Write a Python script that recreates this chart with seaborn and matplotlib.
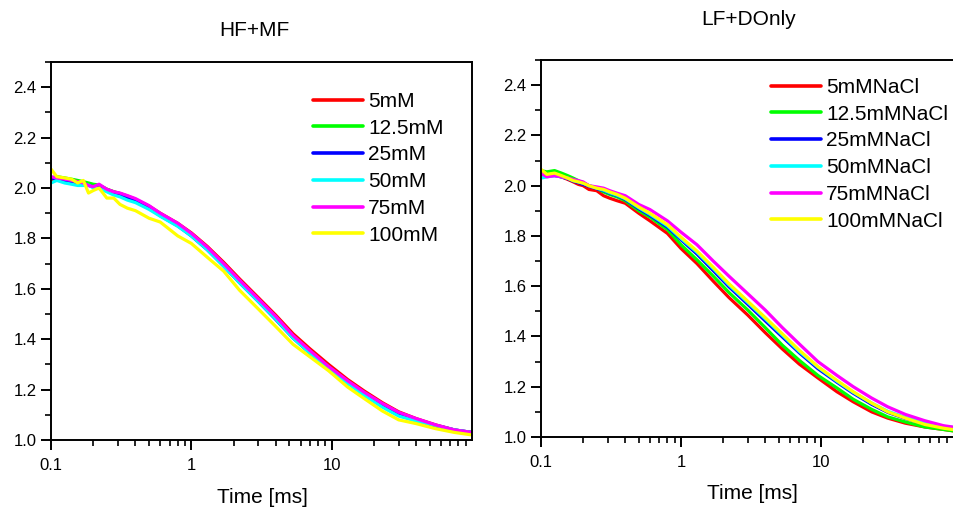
import numpy as np
import pandas as pd
import matplotlib
matplotlib.use("Agg")
import matplotlib.pyplot as plt
import seaborn as sns
from matplotlib.ticker import FixedLocator, MultipleLocator, NullFormatter, FuncFormatter

# ---------------- data ----------------
time_ms = [0.10, 0.11, 0.125, 0.14, 0.155, 0.17, 0.185, 0.20, 0.22, 0.25, 0.28, 0.31,
           0.35, 0.40, 0.50, 0.60, 0.80, 1.0, 1.3, 1.7, 2.2, 3.0, 4.0, 5.3, 7.0, 9.5,
           13, 17, 23, 30, 40, 55, 75, 100]

left_title = "HF+MF"
right_title = "LF+DOnly"
left_labels = ["5mM", "12.5mM", "25mM", "50mM", "75mM", "100mM"]
right_labels = ["5mMNaCl", "12.5mMNaCl", "25mMNaCl", "50mMNaCl", "75mMNaCl", "100mMNaCl"]
colors = ["#ff0000", "#00ff00", "#0000ff", "#00ffff", "#ff00ff", "#ffff00"]

hf_5 = [2.030, 2.035, 2.035, 2.030, 2.025, 2.020, 2.012, 2.005, 2.010, 1.995, 1.985, 1.978,
        1.968, 1.955, 1.928, 1.900, 1.860, 1.822, 1.768, 1.705, 1.640, 1.565, 1.495, 1.422,
        1.362, 1.300, 1.240, 1.195, 1.148, 1.112, 1.085, 1.060, 1.040, 1.030]
hf_12_5 = [2.040, 2.045, 2.040, 2.035, 2.030, 2.025, 2.020, 2.015, 2.012, 1.995, 1.985, 1.978,
           1.965, 1.952, 1.925, 1.895, 1.855, 1.815, 1.760, 1.698, 1.632, 1.555, 1.485, 1.412,
           1.350, 1.290, 1.230, 1.185, 1.140, 1.105, 1.080, 1.055, 1.038, 1.028]
hf_25 = [2.040, 2.035, 2.030, 2.025, 2.020, 2.015, 2.010, 2.005, 2.005, 1.990, 1.978, 1.972,
         1.960, 1.948, 1.920, 1.890, 1.850, 1.810, 1.755, 1.690, 1.625, 1.550, 1.478, 1.405,
         1.345, 1.285, 1.228, 1.180, 1.135, 1.100, 1.078, 1.058, 1.040, 1.030]
hf_50 = [2.020, 2.030, 2.020, 2.015, 2.010, 2.010, 2.012, 2.000, 1.998, 1.985, 1.972, 1.965,
         1.952, 1.942, 1.915, 1.888, 1.848, 1.810, 1.755, 1.690, 1.625, 1.550, 1.480, 1.405,
         1.345, 1.285, 1.225, 1.178, 1.130, 1.095, 1.075, 1.058, 1.040, 1.030]
hf_75 = [2.045, 2.040, 2.035, 2.030, 2.025, 2.020, 2.010, 2.005, 2.015, 1.995, 1.985, 1.980,
         1.970, 1.958, 1.930, 1.900, 1.860, 1.820, 1.765, 1.700, 1.635, 1.560, 1.490, 1.415,
         1.355, 1.292, 1.235, 1.190, 1.145, 1.110, 1.085, 1.060, 1.040, 1.030]
hf_100 = [2.075, 2.045, 2.040, 2.035, 2.020, 2.030, 1.980, 1.990, 2.000, 1.960, 1.960, 1.935,
          1.920, 1.910, 1.880, 1.865, 1.810, 1.780, 1.725, 1.670, 1.595, 1.520, 1.450, 1.380,
          1.330, 1.275, 1.210, 1.165, 1.115, 1.080, 1.065, 1.045, 1.030, 1.020]

lf_5 = [2.050, 2.040, 2.045, 2.035, 2.025, 2.015, 2.005, 2.000, 1.985, 1.980, 1.960, 1.950,
        1.940, 1.930, 1.890, 1.860, 1.810, 1.750, 1.690, 1.620, 1.555, 1.485, 1.415, 1.350,
        1.290, 1.235, 1.180, 1.140, 1.100, 1.075, 1.055, 1.040, 1.030, 1.020]
lf_12_5 = [2.060, 2.055, 2.060, 2.050, 2.040, 2.030, 2.020, 2.010, 2.000, 1.990, 1.975, 1.965,
           1.955, 1.940, 1.900, 1.875, 1.825, 1.765, 1.705, 1.640, 1.575, 1.505, 1.435, 1.365,
           1.305, 1.245, 1.195, 1.150, 1.110, 1.080, 1.060, 1.040, 1.030, 1.020]
lf_25 = [2.045, 2.040, 2.040, 2.035, 2.028, 2.018, 2.012, 2.005, 1.998, 1.988, 1.980, 1.970,
         1.960, 1.945, 1.908, 1.882, 1.835, 1.785, 1.728, 1.662, 1.598, 1.528, 1.462, 1.398,
         1.335, 1.272, 1.218, 1.174, 1.130, 1.098, 1.074, 1.052, 1.038, 1.030]
lf_50 = [2.030, 2.035, 2.040, 2.035, 2.030, 2.020, 2.015, 2.010, 2.000, 1.990, 1.982, 1.972,
         1.962, 1.948, 1.912, 1.886, 1.840, 1.790, 1.735, 1.670, 1.605, 1.535, 1.470, 1.405,
         1.340, 1.278, 1.222, 1.178, 1.135, 1.102, 1.078, 1.056, 1.042, 1.035]
lf_75 = [2.050, 2.035, 2.040, 2.035, 2.030, 2.025, 2.020, 2.015, 2.000, 1.995, 1.990, 1.980,
         1.970, 1.960, 1.925, 1.905, 1.860, 1.815, 1.765, 1.700, 1.640, 1.570, 1.505, 1.435,
         1.370, 1.300, 1.245, 1.200, 1.155, 1.120, 1.090, 1.065, 1.045, 1.035]
lf_100 = [2.065, 2.045, 2.050, 2.040, 2.030, 2.020, 2.015, 2.010, 2.000, 1.990, 1.985, 1.975,
          1.965, 1.950, 1.915, 1.890, 1.845, 1.795, 1.740, 1.675, 1.610, 1.540, 1.475, 1.410,
          1.345, 1.280, 1.225, 1.180, 1.135, 1.100, 1.075, 1.050, 1.035, 1.025]

y_ticks = [1.0, 1.2, 1.4, 1.6, 1.8, 2.0, 2.2, 2.4]
x_ticks = [0.1, 1, 10]
x_ticklabels = ["0.1", "1", "10"]
x_label = "Time [ms]"

# ---------------- figure ----------------
sns.set_style("ticks")
plt.rcParams["font.family"] = ["Liberation Sans", "DejaVu Sans"]
plt.rcParams["text.color"] = "black"
plt.rcParams["xtick.color"] = "black"
plt.rcParams["ytick.color"] = "black"
plt.rcParams["axes.labelcolor"] = "black"

W, H = 954, 512
fig = plt.figure(figsize=(W / 100, H / 100), dpi=100)
fig.patch.set_facecolor("white")


def long_df(series, labels):
    frames = []
    for vals, lab in zip(series, labels):
        frames.append(pd.DataFrame({"time": time_ms, "G": vals, "label": lab}))
    return pd.concat(frames, ignore_index=True)


def make_panel(rect, series, labels, title, title_xy, xlabel_xy, leg_xy):
    ax = fig.add_axes([rect[0] / W, 1 - rect[3] / H, (rect[2] - rect[0]) / W, (rect[3] - rect[1]) / H])
    df = long_df(series, labels)
    sns.lineplot(data=df, x="time", y="G", hue="label", hue_order=labels,
                 palette=colors, linewidth=2.3, estimator=None, sort=False, ax=ax)
    ax.set_xscale("log")
    ax.set_xlim(0.1, 100)
    ax.set_ylim(1.0, 2.5)
    ax.xaxis.set_major_locator(FixedLocator(x_ticks))
    ax.xaxis.set_major_formatter(FuncFormatter(lambda v, p: x_ticklabels[x_ticks.index(v)] if v in x_ticks else ""))
    minors = [m * d for d in (0.1, 1, 10) for m in range(2, 10)]
    ax.xaxis.set_minor_locator(FixedLocator(minors))
    ax.xaxis.set_minor_formatter(NullFormatter())
    ax.yaxis.set_major_locator(FixedLocator(y_ticks))
    ax.yaxis.set_major_formatter(FuncFormatter(lambda v, p: f"{v:.1f}"))
    ax.yaxis.set_minor_locator(MultipleLocator(0.1))
    ax.tick_params(which="major", direction="out", length=7, width=1.4, labelsize=12,
                   colors="black")
    ax.tick_params(axis="x", which="major", pad=6)
    ax.tick_params(axis="y", which="major", pad=3.5)
    ax.tick_params(which="minor", direction="out", length=4, width=1.2, colors="black")
    for s in ax.spines.values():
        s.set_visible(True)
        s.set_linewidth(1.4)
        s.set_color("black")
    ax.set_xlabel("")
    ax.set_ylabel("")
    ax.grid(False)
    handles, labs = ax.get_legend_handles_labels()
    for h in handles:
        h.set_linewidth(2.6)
    leg = ax.legend(handles, labs, loc="upper left",
                    bbox_to_anchor=(leg_xy[0] / W, 1 - leg_xy[1] / H), bbox_transform=fig.transFigure,
                    frameon=False, fontsize=15, handlelength=2.4, handletextpad=0.25,
                    labelspacing=0.37, borderpad=0, borderaxespad=0)
    for t in leg.get_texts():
        t.set_color("black")
    fig.text(title_xy[0] / W, 1 - title_xy[1] / H, title, ha="center", va="baseline",
             fontsize=15, color="black")
    fig.text(xlabel_xy[0] / W, 1 - xlabel_xy[1] / H, x_label, ha="center", va="baseline",
             fontsize=15, color="black")
    return ax


make_panel((51, 62, 472, 440), [hf_5, hf_12_5, hf_25, hf_50, hf_75, hf_100], left_labels,
           left_title, (254, 36), (262, 503), (313, 92))
make_panel((541, 60, 961, 437), [lf_5, lf_12_5, lf_25, lf_50, lf_75, lf_100], right_labels,
           right_title, (749, 25), (752, 499), (771, 78))

fig.savefig("out.png", dpi=100, facecolor="white")
